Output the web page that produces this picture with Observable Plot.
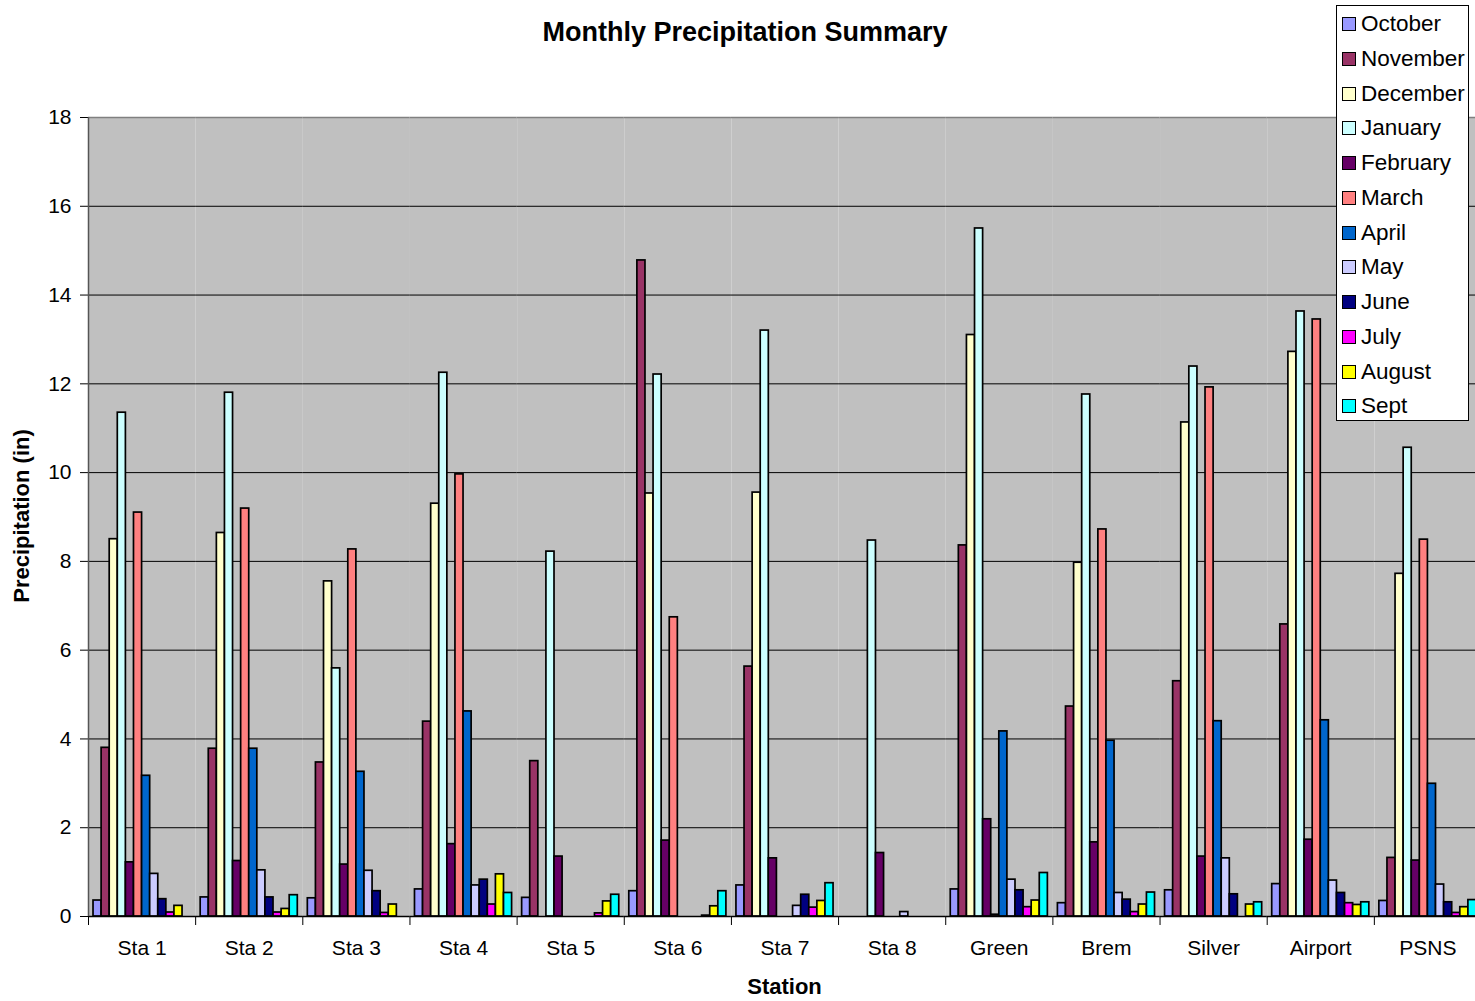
<!DOCTYPE html>
<html>
<head>
<meta charset="utf-8">
<script src="https://cdn.jsdelivr.net/npm/d3@7"></script>
<script src="https://cdn.jsdelivr.net/npm/@observablehq/plot@0.6"></script>
<style>
  html, body { margin: 0; padding: 0; background: #fff; overflow: hidden; }
  body { font-family: "Liberation Sans", Arial, sans-serif; }
  #wrap { position: relative; width: 1481px; height: 1001px; }
  #title { position: absolute; left: 0; width: 1490px; top: 17px; text-align: center; font-weight: bold; font-size: 27px; }
  #xlabel { position: absolute; left: 88px; width: 1393px; top: 974px; text-align: center; font-weight: bold; font-size: 22px; }
  #ylabel { position: absolute; left: 22px; top: 516px; transform: translate(-50%, -50%) rotate(-90deg); font-weight: bold; font-size: 22px; white-space: nowrap; }
  #legend { position: absolute; left: 1336px; top: 5px; width: 133px; height: 416px; border: 1px solid #000; background: #fff; box-sizing: border-box; }
  .li { position: absolute; left: 5px; height: 26px; display: flex; align-items: center; font-size: 22.5px; }
  .sw { width: 12px; height: 12px; border: 1.5px solid #000; margin-right: 5px; }
  #chart { position: absolute; left: 0; top: 0; }
</style>
</head>
<body>
<div id="wrap">
  <div id="chart"></div>
  <div id="title">Monthly Precipitation Summary</div>
  <div id="ylabel">Precipitation (in)</div>
  <div id="xlabel">Station</div>
  <div id="legend"></div>
</div>
<script>
const stations = ["Sta 1", "Sta 2", "Sta 3", "Sta 4", "Sta 5", "Sta 6", "Sta 7", "Sta 8", "Green", "Brem", "Silver", "Airport", "PSNS"];
const months = ["October", "November", "December", "January", "February", "March", "April", "May", "June", "July", "August", "Sept"];
const monthColors = ["#9999FF", "#993366", "#FFFFCC", "#CCFFFF", "#660066", "#FF8080", "#0066CC", "#CCCCFF", "#000080", "#FF00FF", "#FFFF00", "#00FFFF"];
const yTicks = [0, 2, 4, 6, 8, 10, 12, 14, 16, 18];

// values per month, in station order
const october  = [0.36, 0.43, 0.41, 0.61, 0.42, 0.57, 0.70, null, 0.61, 0.30, 0.59, 0.73, 0.35];
const november = [3.80, 3.78, 3.47, 4.39, 3.50, 14.78, 5.63, null, 8.36, 4.73, 5.30, 6.58, 1.32];
const december = [8.50, 8.64, 7.55, 9.30, null, 9.53, 9.55, null, 13.10, 7.97, 11.13, 12.72, 7.72];
const january  = [11.35, 11.80, 5.59, 12.25, 8.22, 12.21, 13.20, 8.47, 15.50, 11.76, 12.39, 13.63, 10.56];
const february = [1.22, 1.25, 1.17, 1.63, 1.35, 1.71, 1.31, 1.43, 2.19, 1.67, 1.35, 1.73, 1.26];
const march    = [9.10, 9.19, 8.27, 9.96, null, 6.74, null, null, 0.04, 8.72, 11.92, 13.45, 8.49];
const april    = [3.17, 3.78, 3.26, 4.62, null, null, null, null, 4.17, 3.96, 4.40, 4.42, 2.99];
const may      = [0.96, 1.04, 1.03, 0.70, null, null, 0.24, 0.10, 0.83, 0.53, 1.31, 0.81, 0.72];
const june     = [0.39, 0.43, 0.57, 0.83, null, null, 0.49, null, 0.59, 0.38, 0.50, 0.53, 0.32];
const july     = [0.09, 0.09, 0.08, 0.27, 0.07, 0.02, 0.20, null, 0.21, 0.10, null, 0.30, 0.08];
const august   = [0.24, 0.17, 0.27, 0.95, 0.34, 0.23, 0.35, null, 0.36, 0.27, 0.27, 0.26, 0.21];
const sept     = [null, 0.48, null, 0.53, 0.49, 0.57, 0.75, null, 0.98, 0.54, 0.32, 0.32, 0.37];

const series = [october, november, december, january, february, march, april, may, june, july, august, sept];
const data = [];
series.forEach((vals, mi) => vals.forEach((v, si) => {
  if (v != null) data.push({station: stations[si], month: months[mi], value: v});
}));

const W = 1481, H = 1001, ML = 88, MR = 0, MT = 117, MB = 85;
const padOuter = 0.62;
const fw = (W - ML - MR) / stations.length;
const step = fw / (months.length + 2 * padOuter);

const chart = Plot.plot({
  width: W,
  height: H,
  marginLeft: ML,
  marginRight: MR,
  marginTop: MT,
  marginBottom: MB,
  style: {fontFamily: "'Liberation Sans', Arial, sans-serif", fontSize: "21px", background: "transparent", color: "#000"},
  fx: {domain: stations, padding: 0, round: false, label: null, axis: "bottom", tickSize: 0, tickPadding: 24},
  x: {domain: months, paddingInner: 0, paddingOuter: padOuter, round: false, axis: null},
  y: {domain: [0, 18], ticks: yTicks, tickSize: 8, tickPadding: 9, label: null, tickFormat: d => d},
  color: {domain: months, range: monthColors},
  marks: [
    Plot.frame({fill: "#C0C0C0", stroke: null}),
    Plot.ruleY(yTicks.filter(d => d > 0 && d < 18), {stroke: "#000", strokeWidth: 1}),
    Plot.ruleY([18], {stroke: "#808080", strokeWidth: 1.5}),
    Plot.barY(data, {fx: "station", x: "month", y: "value", fill: "month", stroke: "#000", strokeWidth: 1.7}),
    Plot.ruleY([0], {stroke: "#000", strokeWidth: 1.5}),
    Plot.ruleX([{station: stations[0], month: months[0]}], {fx: "station", x: "month", y1: 0, y2: 18, dx: -step * (0.5 + padOuter), stroke: "#555", strokeWidth: 1.5}),
    Plot.frame({anchor: "left", insetTop: H - MT - MB, insetBottom: -8, stroke: "#000", strokeWidth: 1})
  ]
});
document.getElementById("chart").appendChild(chart);

const legend = document.getElementById("legend");
months.forEach((m, i) => {
  const row = document.createElement("div");
  row.className = "li";
  row.style.top = (5 + i * 34.75) + "px";
  const sw = document.createElement("div");
  sw.className = "sw";
  sw.style.background = monthColors[i];
  const t = document.createElement("span");
  t.textContent = m;
  row.appendChild(sw);
  row.appendChild(t);
  legend.appendChild(row);
});
</script>
</body>
</html>
